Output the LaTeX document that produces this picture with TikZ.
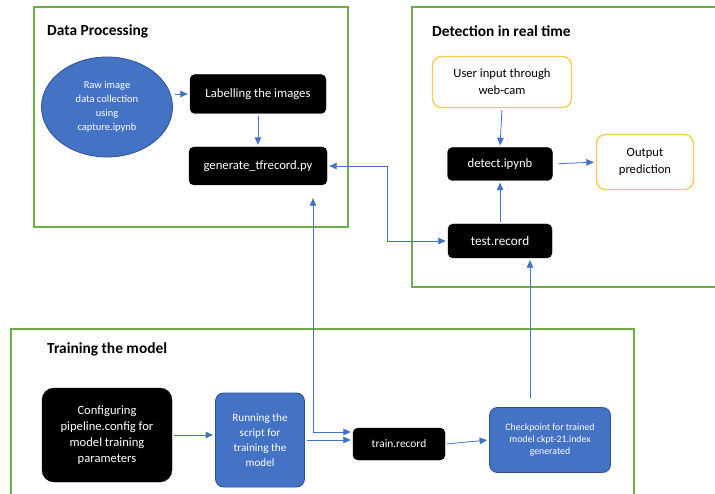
\documentclass[tikz,border=0pt]{standalone}
\usepackage{fontspec}
\setmainfont{Carlito}
\usetikzlibrary{arrows.meta, positioning, shapes.geometric}
\definecolor{frameg}{RGB}{112,173,71}
\definecolor{boxblue}{RGB}{68,114,196}
\definecolor{edgeblue}{RGB}{47,82,143}
\definecolor{camyel}{RGB}{242,204,80}

\begin{document}
\begin{tikzpicture}[
    x=1pt, y=-1pt,
    frame/.style={draw=frameg, line width=1.1pt},
    ttl/.style={font=\fontsize{15.4}{17}\selectfont\bfseries, anchor=west, inner sep=0pt},
    blk/.style={draw=black, fill=black, text=white, rounded corners=5pt, align=center, inner sep=0pt, font=\fontsize{12.7}{16}\selectfont},
    blu/.style={draw=edgeblue, fill=boxblue, text=white, rounded corners=8pt, align=center, inner sep=0pt, line width=0.8pt},
    yel/.style={draw=camyel, line width=1.3pt, fill=white, rounded corners=9pt, align=center, inner sep=0pt, font=\fontsize{12.6}{16.8}\selectfont},
    arr/.style={-{Triangle[length=7.5pt, width=6.5pt]}, draw=boxblue, line width=0.8pt, shorten >=2pt, shorten <=2pt},
    biarr/.style={arr, {Triangle[length=7.5pt, width=6.5pt]}-{Triangle[length=7.5pt, width=6.5pt]}},
]
\useasboundingbox (0,0) rectangle (715,494);

% ── Frames ──
\draw[frame] (34,7) rectangle (348,227);
\draw[frame] (412,7) rectangle (718,287);
\draw[frame] (11,329) rectangle (634,500);

\node[ttl] (dptitle) at (47,31) {Data Processing};
\node[ttl] (rttitle) at (432,31) {Detection in real time};
\node[ttl] (trtitle) at (47,349) {Training the model};

% ── Data processing ──
\node[ellipse, draw=edgeblue, fill=boxblue, text=white, line width=0.8pt, minimum width=131pt, minimum height=100pt, inner sep=0pt, align=center, font=\fontsize{10.5}{14}\selectfont] (raw) at (107,107) {Raw image\\data collection\\using\\capture.ipynb};
\node[blk, minimum width=136pt, minimum height=39pt] (label) at (258,94) {Labelling the images};
\node[blk, minimum width=138pt, minimum height=38pt] (gentf) at (258,166) {generate\_tfrecord.py};

% ── Detection in real time ──
\node[yel, minimum width=139pt, minimum height=51pt] (user) at (502,82) {User input through\\web-cam};
\node[blk, minimum width=105pt, minimum height=33pt] (detect) at (500,164) {detect.ipynb};
\node[yel, minimum width=97pt, minimum height=55pt] (outp) at (645,162) {Output\\prediction};
\node[blk, minimum width=104pt, minimum height=34pt, font=\fontsize{13.2}{16}\selectfont] (testrec) at (500,241) {test.record};

% ── Training the model ──
\node[blk, minimum width=130pt, minimum height=94pt, rounded corners=12pt, font=\fontsize{12.6}{16}\selectfont] (config) at (107,435) {Configuring\\pipeline.config for\\model training\\parameters};
\node[blu, minimum width=89pt, minimum height=94pt, font=\fontsize{11.2}{15}\selectfont] (running) at (260,440) {Running the\\script for\\training the\\model};
\node[blk, minimum width=92pt, minimum height=32pt, font=\fontsize{11.4}{14}\selectfont] (trainrec) at (399,444) {train.record};
\node[blu, minimum width=121pt, minimum height=65pt, font=\fontsize{9.8}{12.3}\selectfont] (ckpt) at (550,440) {Checkpoint for trained\\model ckpt-21.index\\generated};

% ── Arrows ──
\draw[arr] (raw.east |- label.west) -- (label.west);
\draw[arr] (label.south) -- (gentf.north);
\draw[arr] (user.south) -- (detect.north);
\draw[arr] (testrec.north) -- (detect.south);
\draw[arr, shorten <=6pt] (detect.east) -- (outp.west);
\draw[biarr] (gentf.east) -- ++(60,0) |- (testrec.west);
\coordinate (gtup) at ([xshift=55pt, yshift=-11pt]gentf.south);
\draw[biarr] (gtup) |- ([yshift=12pt]trainrec.west);
\draw[arr] (config.east) -- (config.east -| running.west);
\draw[arr] (running.east) -- (running.east -| trainrec.west);
\draw[arr] (trainrec.east) -- (ckpt.west);
\coordinate (ckup) at ([xshift=-20pt, yshift=9pt]ckpt.north);
\draw[arr, shorten <=0pt] (ckup) -- (ckup |- testrec.south);

\end{tikzpicture}
\end{document}
